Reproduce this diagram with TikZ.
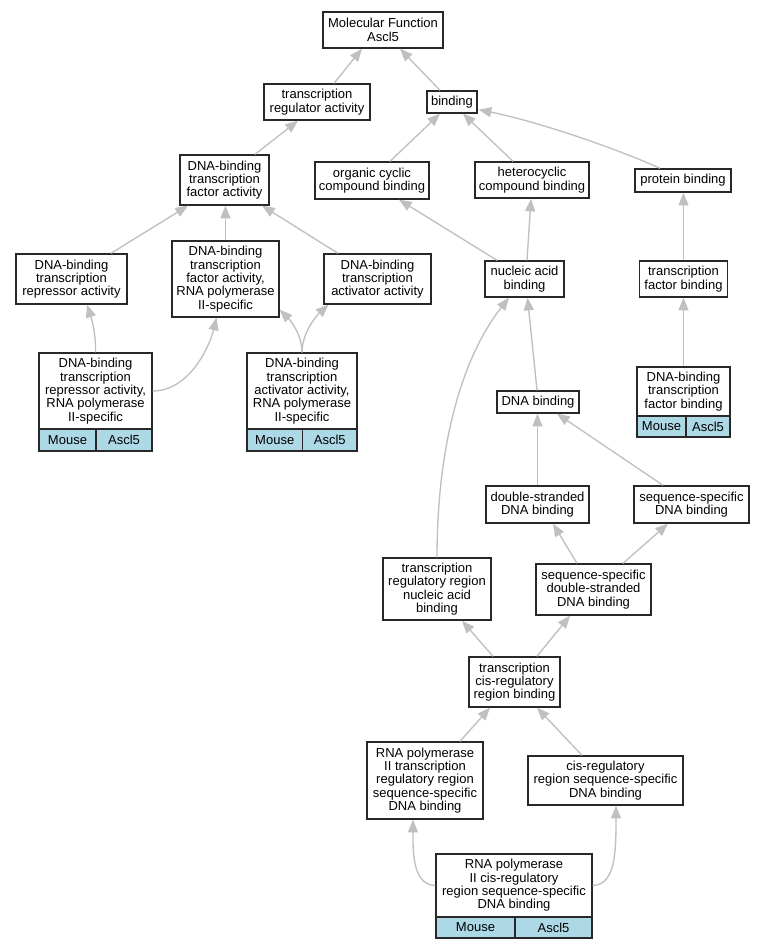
\documentclass[tikz,border=0pt]{standalone}
\usepackage{fontspec}
\setmainfont{Liberation Sans}
\usetikzlibrary{arrows.meta,calc}
\definecolor{edgegray}{RGB}{192,192,192}
\definecolor{cellblue}{RGB}{173,216,230}
\definecolor{boxline}{RGB}{40,40,40}
\tikzset{
  gbox/.style={draw=boxline, line width=1pt, fill=white, inner sep=0pt, align=center,
    font=\fontsize{9.75pt}{10pt}\selectfont},
  gcell/.style={gbox, fill=cellblue},
  gedge/.style={draw=edgegray, line width=1pt, -{Triangle[length=9.5pt,width=7.5pt]}},
}
\newcommand\gbox[6]{\node[gbox, minimum width={(#4-#2)*0.75pt}, minimum height={(#5-#3)*0.75pt}] (#1) at ({(#2+#4)/2},{(#3+#5)/2}) {#6};}
\newcommand\gcell[6]{\node[gcell, minimum width={(#4-#2)*0.75pt}, minimum height={(#5-#3)*0.75pt}] (#1) at ({(#2+#4)/2},{(#3+#5)/2}) {#6};}
\begin{document}
\begin{tikzpicture}[x=0.75pt,y=-0.75pt]
\fill[white] (0,0) rectangle (765,949);
\useasboundingbox (0,0) rectangle (765,949);
% nodes
\gbox{mf}{323}{12}{443}{48}{Molecular Function\\Ascl5}
\gbox{tra}{264}{84}{370}{120}{transcription\\regulator activity}
\gbox{binding}{427}{91}{477}{113}{binding}
\gbox{dtfa}{180}{155}{269}{205}{DNA-binding\\transcription\\factor activity}
\gbox{occb}{315}{162}{429}{199}{organic cyclic\\compound binding}
\gbox{hcb}{475}{162}{589}{198}{heterocyclic\\compound binding}
\gbox{pb}{635}{169}{731}{192}{protein binding}
\gbox{dtra}{16}{254}{127}{304}{DNA-binding\\transcription\\repressor activity}
\gbox{dtfa2}{172}{241}{279}{317}{DNA-binding\\transcription\\factor activity,\\RNA polymerase\\II-specific}
\gbox{dtaa}{324}{254}{431}{304}{DNA-binding\\transcription\\activator activity}
\gbox{nab}{485}{261}{564}{297}{nucleic acid\\binding}
\gbox{tfb}{639.5}{261}{727.5}{297}{transcription\\factor binding}
\gbox{dtra2}{39}{353}{152}{429}{DNA-binding\\transcription\\repressor activity,\\RNA polymerase\\II-specific}
\gcell{dtra2m}{39}{429}{96}{451}{Mouse}
\gcell{dtra2a}{96}{429}{152}{451}{Ascl5}
\gbox{dtaa2}{247}{353}{357}{429}{DNA-binding\\transcription\\activator activity,\\RNA polymerase\\II-specific}
\gcell{dtaa2m}{247}{429}{302.5}{451}{Mouse}
\gcell{dtaa2a}{302.5}{429}{357}{451}{Ascl5}
\gbox{dtfb}{637}{367}{730}{416}{DNA-binding\\transcription\\factor binding}
\gcell{dtfbm}{637}{416}{686}{437}{Mouse}
\gcell{dtfba}{686}{416}{730}{437}{Ascl5}
\gbox{db}{497}{391}{579}{413}{DNA binding}
\gbox{dsdb}{486}{486}{589}{523}{double-stranded\\DNA binding}
\gbox{ssdb}{634}{486}{749}{523}{sequence-specific\\DNA binding}
\gbox{trrnab}{383}{558}{491}{620}{transcription\\regulatory region\\nucleic acid\\binding}
\gbox{ssdsdb}{536}{564}{651}{615}{sequence-specific\\double-stranded\\DNA binding}
\gbox{tcrb}{469}{657}{560}{707}{transcription\\cis-regulatory\\region binding}
\gbox{rp2trr}{367}{742}{483}{819}{RNA polymerase\\II transcription\\regulatory region\\sequence-specific\\DNA binding}
\gbox{crss}{528}{756}{683}{805}{cis-regulatory\\region sequence-specific\\DNA binding}
\gbox{rp2cr}{436}{854}{592}{917}{RNA polymerase\\II cis-regulatory\\region sequence-specific\\DNA binding}
\gcell{rp2crm}{436}{917}{515}{938}{Mouse}
\gcell{rp2cra}{515}{917}{592}{938}{Ascl5}
% edges
\draw[gedge] ($(tra.north)+(17,0)$) -- ($(mf.south)+(-21,0)$);
\draw[gedge] ($(binding.north)+(-12,0)$) -- ($(mf.south)+(17,0)$);
\draw[gedge] ($(dtfa.north)+(30.5,0)$) -- ($(tra.south)+(-19,0)$);
\draw[gedge] ($(occb.north)+(18,0)$) -- ($(binding.south)+(-12,0)$);
\draw[gedge] ($(hcb.north)+(-19,0)$) -- ($(binding.south)+(11,0)$);
\draw[gedge] ($(pb.north)+(-23,0)$) .. controls (620,150) and (540,122) .. ($(binding.south east)+(1,-4)$);
\draw[gedge] ($(dtra.north)+(39.5,0)$) -- ($(dtfa.south)+(-36.5,0)$);
\draw[gedge] (dtfa2.north) -- (dtfa2.north |- dtfa.south);
\draw[gedge] ($(dtaa.north)+(-39.5,0)$) -- ($(dtfa.south)+(37.5,0)$);
\draw[gedge] ($(nab.north)+(-27.5,0)$) -- ($(occb.south)+(27,0)$);
\draw[gedge] ($(nab.north)+(2.5,0)$) -- ($(hcb.south)+(-1,0)$);
\draw[gedge] (tfb.north) -- (tfb.north |- pb.south);
\draw[gedge] (dtra2.north) .. controls (96,335) and (92,320) .. ($(dtra.south)+(15.5,0)$);
\draw[gedge] (dtra2.east) .. controls (190,391) and (210,345) .. ($(dtfa2.south)+(-9,0)$);
\draw[gedge] (dtaa2.north) .. controls (302,335) and (291,321) .. ($(dtfa2.south east)+(0,-8)$);
\draw[gedge] (dtaa2.north) .. controls (302,335) and (314,318) .. ($(dtaa.south)+(-49,0)$);
\draw[gedge] (trrnab.north) .. controls (437,450) and (460,360) .. ($(nab.south)+(-15.5,0)$);
\draw[gedge] ($(db.north)+(-1,0)$) -- ($(nab.south)+(3,0)$);
\draw[gedge] (dtfb.north) -- (dtfb.north |- tfb.south);
\draw[gedge] (dsdb.north) -- (dsdb.north |- db.south);
\draw[gedge] ($(ssdb.north)+(-28.5,0)$) -- ($(db.south)+(19,0)$);
\draw[gedge] ($(ssdsdb.north)+(-16.5,0)$) -- ($(dsdb.south)+(15.5,0)$);
\draw[gedge] ($(ssdsdb.north)+(29.5,0)$) -- ($(ssdb.south)+(-23.5,0)$);
\draw[gedge] ($(tcrb.north)+(-21.5,0)$) -- ($(trrnab.south)+(25,0)$);
\draw[gedge] ($(tcrb.north)+(22.5,0)$) -- ($(ssdsdb.south)+(-23.5,0)$);
\draw[gedge] ($(rp2trr.north)+(35,0)$) -- ($(tcrb.south)+(-24.5,0)$);
\draw[gedge] ($(crss.north)+(-23.5,0)$) -- ($(tcrb.south)+(22.5,0)$);
\draw[gedge] (rp2cr.west) .. controls (412,885) and (413,850) .. ($(rp2trr.south)+(-12,0)$);
\draw[gedge] (rp2cr.east) .. controls (616,885) and (616,850) .. ($(crss.south)+(10.5,0)$);
\end{tikzpicture}
\end{document}
